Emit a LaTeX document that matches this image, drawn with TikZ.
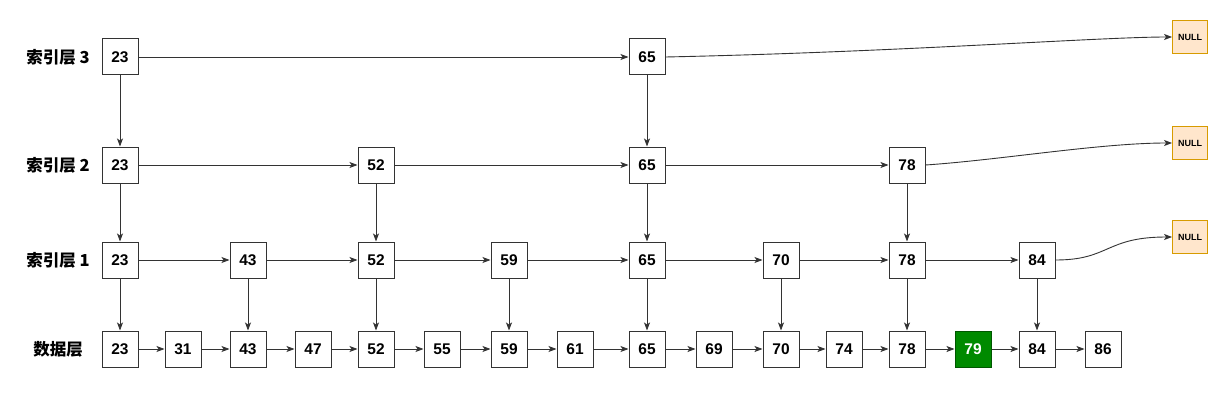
\documentclass[tikz,border=0pt]{standalone}
\usepackage{fontspec}
\setmainfont{Liberation Sans}
\newfontfamily\cjk{Noto Sans CJK SC}
\usetikzlibrary{arrows.meta}
\definecolor{lineg}{HTML}{333333}
\definecolor{nullfill}{HTML}{FFE6CC}
\definecolor{nullbord}{HTML}{D79B00}
\definecolor{gfill}{HTML}{008A00}
\definecolor{gbord}{HTML}{005700}
\tikzset{
  nbox/.style={draw=lineg, line width=1pt, fill=white, minimum width=36pt, minimum height=36pt, inner sep=0pt, font=\fontsize{15.5}{15.5}\selectfont\bfseries},
  gbox/.style={nbox, draw=gbord, fill=gfill, text=white},
  nullbox/.style={draw=nullbord, line width=0.9pt, fill=nullfill, minimum width=35pt, minimum height=33pt, inner sep=0pt, font=\fontsize{9}{9}\selectfont\bfseries},
  lbl/.style={font=\cjk\bfseries\fontsize{16.5}{16.5}\selectfont, inner sep=0pt},
  arr/.style={draw=lineg, line width=0.9pt, -{Stealth[length=8pt,width=6pt,inset=2pt]}},
}
\begin{document}
\begin{tikzpicture}[x=1pt,y=-1pt]
\useasboundingbox (0,0) rectangle (1213,404);
% labels
\node[lbl] (L3) at (58,57) {索引层 3};
\node[lbl] (L2) at (58,165) {索引层 2};
\node[lbl] (L1) at (58,260) {索引层 1};
\node[lbl] (L0) at (58,349) {数据层};
% data layer
\node[nbox] (d23) at (120,349) {23};
\node[nbox] (d31) at (183,349) {31};
\node[nbox] (d43) at (248,349) {43};
\node[nbox] (d47) at (313,349) {47};
\node[nbox] (d52) at (376,349) {52};
\node[nbox] (d55) at (442,349) {55};
\node[nbox] (d59) at (509,349) {59};
\node[nbox] (d61) at (575,349) {61};
\node[nbox] (d65) at (647,349) {65};
\node[nbox] (d69) at (714,349) {69};
\node[nbox] (d70) at (781,349) {70};
\node[nbox] (d74) at (844,349) {74};
\node[nbox] (d78) at (907,349) {78};
\node[gbox] (d79) at (973,349) {79};
\node[nbox] (d84) at (1037,349) {84};
\node[nbox] (d86) at (1103,349) {86};
% index 1
\node[nbox] (a23) at (120,260) {23};
\node[nbox] (a43) at (248,260) {43};
\node[nbox] (a52) at (376,260) {52};
\node[nbox] (a59) at (509,260) {59};
\node[nbox] (a65) at (647,260) {65};
\node[nbox] (a70) at (781,260) {70};
\node[nbox] (a78) at (907,260) {78};
\node[nbox] (a84) at (1037,260) {84};
% index 2
\node[nbox] (b23) at (120,165) {23};
\node[nbox] (b52) at (376,165) {52};
\node[nbox] (b65) at (647,165) {65};
\node[nbox] (b78) at (907,165) {78};
% index 3
\node[nbox] (c23) at (120,57) {23};
\node[nbox] (c65) at (647,57) {65};
% NULL
\node[nullbox] (n3) at (1190,37) {NULL};
\node[nullbox] (n2) at (1190,143) {NULL};
\node[nullbox] (n1) at (1190,237) {NULL};
% horizontal data
\foreach \a/\b in {d23/d31,d31/d43,d43/d47,d47/d52,d52/d55,d55/d59,d59/d61,d61/d65,d65/d69,d69/d70,d70/d74,d74/d78,d78/d79,d79/d84,d84/d86}
  \draw[arr] (\a) -- (\b);
% horizontal index 1
\foreach \a/\b in {a23/a43,a43/a52,a52/a59,a59/a65,a65/a70,a70/a78,a78/a84}
  \draw[arr] (\a) -- (\b);
% index 2
\foreach \a/\b in {b23/b52,b52/b65,b65/b78}
  \draw[arr] (\a) -- (\b);
% index 3
\draw[arr] (c23) -- (c65);
% verticals
\foreach \a/\b in {c23/b23,c65/b65,b23/a23,b52/a52,b65/a65,b78/a78,a23/d23,a43/d43,a52/d52,a59/d59,a65/d65,a70/d70,a78/d78,a84/d84}
  \draw[arr] (\a) -- (\b);
% to NULL
\draw[arr] (c65.east) .. controls (900,52) and (1100,37) .. (n3.west);
\draw[arr] (b78.east) .. controls (1000,160) and (1100,143) .. (n2.west);
\draw[arr] (a84.east) .. controls (1110,260) and (1105,237) .. (n1.west);
\end{tikzpicture}
\end{document}
